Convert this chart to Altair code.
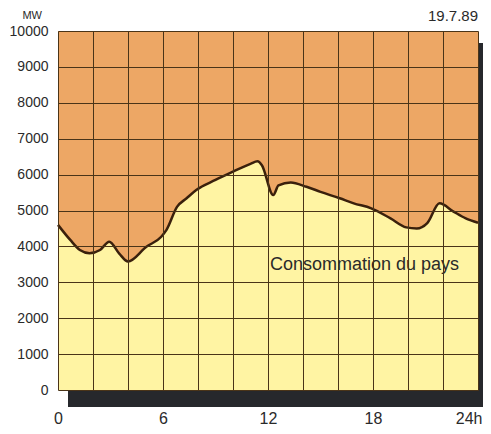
import altair as alt
import pandas as pd

# Load curve (hour of day, MW)
hours = [0, 0.7, 1.25, 1.8, 2.4, 2.93, 3.5, 4.0, 5.05, 5.9, 6.2, 6.8, 7.35, 7.9, 9.0, 10.0,
         11.0, 11.4, 11.65, 12.3, 12.6, 13.3, 14.2, 15.0, 16.1, 16.9, 17.9, 19.0, 19.9,
         20.5, 21.1, 21.8, 22.6, 23.3, 24.0]
mw = [4600, 4180, 3900, 3810, 3900, 4130, 3800, 3580, 3990, 4270, 4460, 5100, 5340, 5570,
      5850, 6080, 6300, 6370, 6260, 5430, 5700, 5780, 5660, 5520, 5340, 5200, 5060, 4780,
      4530, 4500, 4650, 5200, 4970, 4780, 4660]

x_grid = list(range(0, 25, 2))
y_grid = list(range(0, 10001, 1000))

df = pd.DataFrame({"h": hours, "mw": mw})

W, H = 420, 359
ORANGE = "#EDA765"
YELLOW = "#FFF4A3"
GRID = "#4a3418"
LINE = "#3a200c"
SHADOW = "#26282c"
TEXT = "#2a2a2a"
FONT = "Liberation Sans"

one = alt.Data(values=[{"a": 1}])

xs = alt.X("h:Q", scale=alt.Scale(domain=[0, 24], nice=False),
           axis=alt.Axis(values=x_grid, grid=True, gridColor=GRID, gridOpacity=1, gridWidth=1,
                         ticks=False, domain=False, title=None, zindex=1,
                         labelExpr="datum.value == 24 ? '24h' : (datum.value % 6 == 0 ? datum.label : '')",
                         labelAlign={"condition": {"test": "datum.value == 24", "value": "right"},
                                     "value": "center"},
                         labelOffset={"condition": {"test": "datum.value == 24", "value": 4},
                                      "value": 0},
                         labelFontSize=16, labelPadding=20, labelColor=TEXT, labelFont=FONT,
                         labelFlush=False, labelOverlap=False))
ys = alt.Y("mw:Q", scale=alt.Scale(domain=[0, 10000], nice=False),
           axis=alt.Axis(values=y_grid, grid=True, gridColor=GRID, gridOpacity=1, gridWidth=1,
                         ticks=False, domain=False, title=None, zindex=1,
                         labelFontSize=14, labelPadding=10, labelColor=TEXT, labelFont=FONT,
                         format="d", labelFlush=False, labelOverlap=False))

shadow = alt.Chart(one).mark_rect(color=SHADOW, clip=False).encode(
    x=alt.value(10), x2=alt.value(W + 20), y=alt.value(12), y2=alt.value(H + 17))
bg = alt.Chart(one).mark_rect(color=ORANGE).encode(
    x=alt.value(0), x2=alt.value(W), y=alt.value(0), y2=alt.value(H))
area = alt.Chart(df).mark_area(color=YELLOW, interpolate="monotone", opacity=1).encode(x=xs, y=ys)
line = alt.Chart(df).mark_line(color=LINE, strokeWidth=2.5, interpolate="monotone").encode(x=xs, y=ys)

t_mw = alt.Chart(one).mark_text(text="MW", fontSize=11, align="right", baseline="middle",
                                 color=TEXT, font=FONT).encode(x=alt.value(-16), y=alt.value(-15))
t_date = alt.Chart(one).mark_text(text="19.7.89", fontSize=15, align="right", baseline="middle",
                                   color=TEXT, font=FONT).encode(x=alt.value(W), y=alt.value(-15))
t_lab = alt.Chart(one).mark_text(text="Consommation du pays", fontSize=18, align="left",
                                  baseline="middle", color=TEXT, font=FONT).encode(
    x=alt.value(212), y=alt.value(234))

chart = alt.layer(shadow, bg, area, line, t_mw, t_date, t_lab).properties(
    width=W, height=H,
    autosize=alt.AutoSizeParams(type="none"),
    padding={"left": 50, "top": 23, "right": 5, "bottom": 36},
).configure_view(stroke=None)

chart.save("out.html", embed_options={"renderer": "svg", "actions": False})
